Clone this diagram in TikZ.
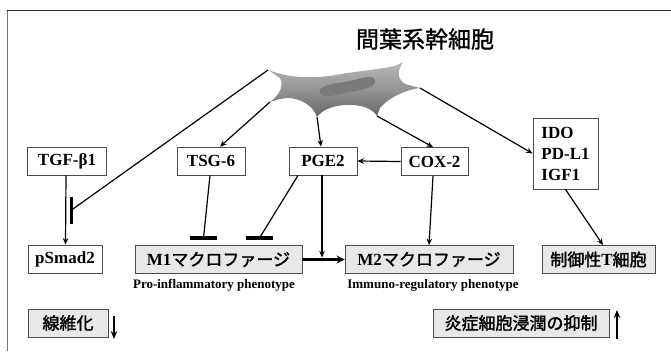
\documentclass[tikz,border=0pt]{standalone}
\usepackage{fontspec}
\setmainfont{Liberation Serif}
\newfontfamily\jpfont[FakeBold=1.8]{Noto Sans CJK JP}
\newfontfamily\jptitle[FakeBold=1.2]{Noto Sans CJK JP}
\usetikzlibrary{arrows.meta}

\begin{document}
\begin{tikzpicture}[x=1pt,y=-1pt,
  box/.style={draw=black!70, line width=0.8pt, fill=white, minimum height=28pt,
    inner sep=2pt, font=\fontsize{17}{21}\selectfont\bfseries},
  graybox/.style={box, fill=black!9},
  conn/.style={line width=1.2pt, -{Stealth[length=6.5pt,width=5.5pt]}},
  bigconn/.style={line width=1.8pt, -{Stealth[length=8pt,width=6.5pt]}},
  mainconn/.style={line width=3pt, -{Stealth[length=8pt,width=8pt]}},
  inhib/.style={line width=1.2pt},
  barline/.style={line width=3.6pt},
  note/.style={font=\fontsize{13}{15}\selectfont\bfseries}
]
\useasboundingbox (0,0) rectangle (671,351);

% frame
\draw[black!55, line width=1.6pt] (7.5,351) -- (7.5,10.5);
\draw[black!85, line width=0.8pt] (6.7,10.5) -- (671,10.5);

% title
\node[font=\jptitle\fontsize{23}{26}\selectfont] (title) at (425,39) {間葉系幹細胞};

% the stem cell
\shade[top color=black!28, bottom color=black!60, middle color=black!42]
  (268,70) .. controls (285,76) and (300,79) .. (330,76)
  .. controls (350,72) and (375,70) .. (395,66) -- (403,62)
  .. controls (398,70) and (396,78) .. (405,84) -- (420,88)
  .. controls (405,90) and (388,98) .. (380,108) -- (377,116)
  .. controls (372,108) and (360,104) .. (345,105)
  .. controls (332,106) and (322,110) .. (317,117)
  .. controls (314,108) and (305,100) .. (290,98)
  .. controls (282,98) and (276,100) .. (270,102)
  .. controls (280,95) and (284,85) .. (280,78) -- cycle;
\fill[black!52]
  (320,93) .. controls (316,86) and (333,84) .. (350,81)
  .. controls (362,78) and (373,74) .. (375,80)
  .. controls (377,87) and (362,90) .. (350,92)
  .. controls (335,95) and (323,99) .. (320,93) -- cycle;
\coordinate (tipUL) at (268,70);
\coordinate (tipLL) at (270,102);
\coordinate (tipB) at (317,117);
\coordinate (tipBR) at (377,116);
\coordinate (tipR) at (420,88);

% factor boxes
\node[box, minimum width=79pt] (tgf) at (67,161) {TGF-β1};
\node[box, minimum width=68pt] (tsg) at (211,161) {TSG-6};
\node[box, minimum width=68pt] (pge) at (323,161) {PGE2};
\node[box, minimum width=67pt] (cox) at (434.5,161.5) {COX-2};
\node[box, minimum width=65pt, minimum height=71pt, align=left] (ido) at (565.5,153.5) {IDO\\PD-L1\\IGF1};

% target boxes
\node[box, minimum width=74pt] (psmad) at (65,259) {pSmad2};
\node[graybox, minimum width=167pt] (m1) at (218.5,259.5) {M1{\mdseries\jpfont マクロファージ}};
\node[graybox, minimum width=168pt] (m2) at (429,259.5) {M2{\mdseries\jpfont マクロファージ}};
\node[graybox, minimum width=113pt] (treg) at (598.5,259.5) {{\mdseries\jpfont 制御性}T{\mdseries\jpfont 細胞}};
\node[note] (pro) at (214,285) {Pro-inflammatory phenotype};
\node[note] (imm) at (433,285) {Immuno-regulatory phenotype};

% outcomes
\node[graybox, minimum width=80pt] (fib) at (68,323) {\mdseries\jpfont 線維化};
\node[graybox, minimum width=176pt] (infl) at (521,323) {\mdseries\jpfont 炎症細胞浸潤の抑制};
\coordinate (fibA) at (114,316);
\coordinate (fibB) at (114,339);
\coordinate (inflA) at (617,339);
\coordinate (inflB) at (617,310);
\draw[bigconn] (fibA) -- (fibB);
\draw[bigconn] (inflA) -- (inflB);

% from the cell
\coordinate (barM) at (71.5,210);
\draw[inhib] (tipUL) -- (barM);
\draw[barline] ([yshift=13.5pt]barM) -- ([yshift=-13.5pt]barM);
\draw[conn] (tipLL) -- ([xshift=9pt]tsg.north);
\draw[conn] (tipB) -- ([xshift=-2pt]pge.north);
\draw[conn] (tipBR) -- ([xshift=-1.5pt]cox.north);
\draw[conn] (tipR) -- (ido.west);

% between factors and targets
\draw[conn] ([xshift=-1pt]tgf.south) -- ([xshift=0.5pt]psmad.north);
\draw[conn] (cox.west) -- (pge.east);
\coordinate (tsgBar) at (203.5,238);
\coordinate (pgeBar) at (259.5,238);
\draw[inhib] ([xshift=-1pt]tsg.south) -- (tsgBar);
\draw[barline] ([xshift=-13.5pt]tsgBar) -- ([xshift=13.5pt]tsgBar);
\draw[inhib] ([xshift=-25pt]pge.south) -- (pgeBar);
\draw[barline] ([xshift=-13.5pt]pgeBar) -- ([xshift=13.5pt]pgeBar);
\draw[mainconn] (m1.east) -- (m2.west);
\coordinate (join) at (322,257.5);
\draw[conn] ([xshift=-1pt]pge.south) -- (join);
\draw[conn] ([xshift=-1.5pt]cox.south) -- (m2.north);
\draw[conn] (ido.south) -- ([xshift=4.5pt]treg.north);
\end{tikzpicture}
\end{document}
